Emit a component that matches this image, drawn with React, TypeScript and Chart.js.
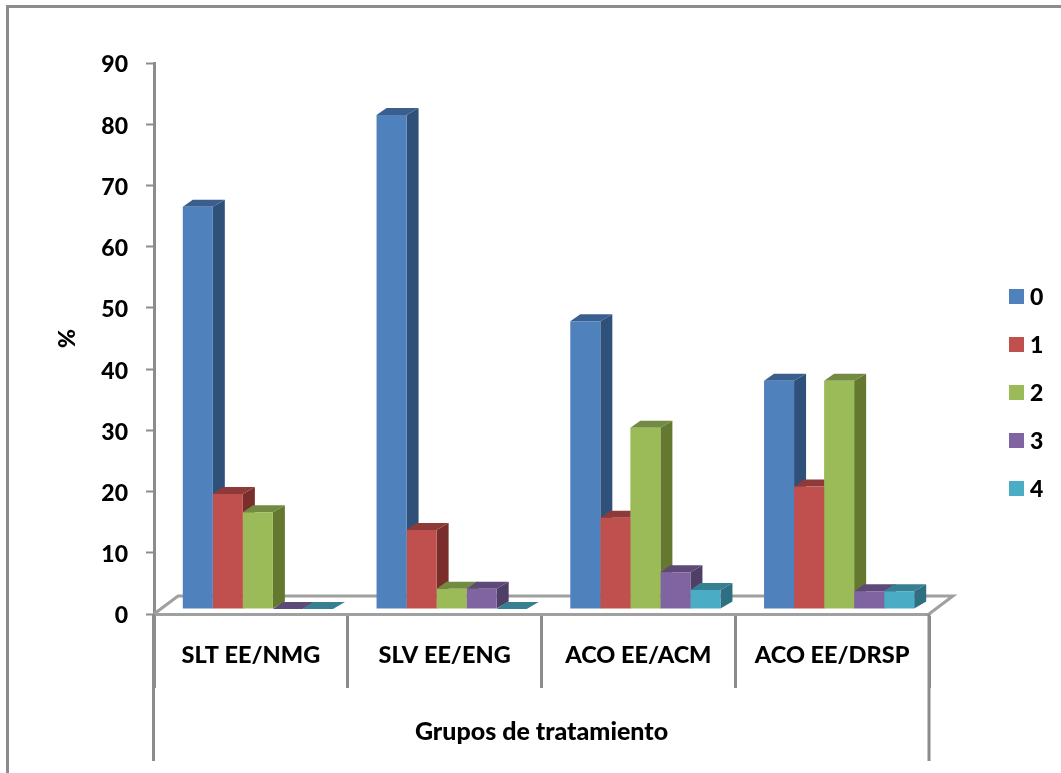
import React, { useEffect, useRef } from "react";
import { Chart, registerables } from "chart.js";

Chart.register(...registerables);

const categories = ["SLT EE/NMG", "SLV EE/ENG", "ACO EE/ACM", "ACO EE/DRSP"];
const seriesNames = ["0", "1", "2", "3", "4"];
const series0 = [65.7, 80.7, 47, 37.3];
const series1 = [18.8, 12.9, 14.9, 20];
const series2 = [15.8, 3.3, 29.6, 37.3];
const series3 = [0, 3.3, 6, 2.9];
const series4 = [0, 0, 3.1, 2.9];
const seriesValues = [series0, series1, series2, series3, series4];

const frontColors = ["#4F81BD", "#C0504D", "#9BBB59", "#8064A2", "#4BACC6"];
const topColors = ["#3A5F8E", "#8E3A38", "#738A42", "#5E4A78", "#378092"];
const sideColors = ["#2E5079", "#7A2E2C", "#64792F", "#4F3E66", "#2E6F82"];

const AXIS_GREY = "#8C8C8C";
const FONT = "Lato";
const TEXT_WEIGHT = 900;

// Perspective offsets of the 3D column look
const DEPTH_X = 12;
const DEPTH_Y = 7;
// The columns stand slightly inside the floor
const BAR_SHIFT_X = 7;
const BAR_SHIFT_Y = -5;
// Offset from the front edge of the floor to its back edge
const FLOOR_X = 24;
const FLOOR_Y = -18;

function poly(ctx: CanvasRenderingContext2D, pts: number[][], fill: string) {
  ctx.beginPath();
  pts.forEach(([x, y], i) => (i ? ctx.lineTo(x, y) : ctx.moveTo(x, y)));
  ctx.closePath();
  ctx.fillStyle = fill;
  ctx.fill();
}

const depthPlugin = {
  id: "depth3d",
  beforeDraw(chart: any) {
    const { ctx, width, height } = chart;
    ctx.save();
    ctx.fillStyle = "#FFFFFF";
    ctx.fillRect(0, 0, width, height);
    // outer frame: top and left edges
    ctx.strokeStyle = AXIS_GREY;
    ctx.lineWidth = 3;
    ctx.beginPath();
    ctx.moveTo(7.5, height);
    ctx.lineTo(7.5, 6.5);
    ctx.lineTo(width, 6.5);
    ctx.stroke();
    ctx.restore();
  },
  beforeDatasetsDraw(chart: any) {
    const { ctx } = chart;
    const { left, right, bottom } = chart.chartArea;
    // floor outline behind the columns
    ctx.save();
    ctx.strokeStyle = "#A0A0A0";
    ctx.lineWidth = 3;
    ctx.beginPath();
    ctx.moveTo(left, bottom);
    ctx.lineTo(left + FLOOR_X, bottom + FLOOR_Y);
    ctx.lineTo(right + FLOOR_X, bottom + FLOOR_Y);
    ctx.lineTo(right, bottom);
    ctx.stroke();
    ctx.restore();
    // outer level of the category axis
    const xs = chart.scales.x;
    ctx.save();
    ctx.strokeStyle = AXIS_GREY;
    ctx.lineWidth = 3;
    ctx.beginPath();
    ctx.moveTo(left - 0.5, bottom);
    ctx.lineTo(left - 0.5, xs.bottom - 12);
    ctx.moveTo(right, bottom);
    ctx.lineTo(right, xs.bottom - 12);
    ctx.stroke();
    ctx.restore();
    ctx.save();
    ctx.translate(BAR_SHIFT_X, BAR_SHIFT_Y);
    // side and top faces go left to right, all underneath the column fronts
    chart.getSortedVisibleDatasetMetas().forEach((meta: any) => {
      const i = meta.index;
      meta.data.forEach((bar: any) => {
        const { x, y, base, width } = bar;
        const l = x - width / 2;
        const r = x + width / 2;
        poly(ctx, [[r, y], [r + DEPTH_X, y - DEPTH_Y], [r + DEPTH_X, base - DEPTH_Y], [r, base]], sideColors[i]);
        poly(ctx, [[l, y], [l + DEPTH_X - 2, y - DEPTH_Y], [r + DEPTH_X, y - DEPTH_Y], [r, y]], topColors[i]);
      });
    });
  },
  afterDatasetsDraw(chart: any) {
    chart.ctx.restore();
    // legend column
    const { ctx } = chart;
    ctx.save();
    ctx.textBaseline = "middle";
    ctx.textAlign = "left";
    ctx.font = `${TEXT_WEIGHT} 23px ${FONT}`;
    chart.data.datasets.forEach((ds: any, i: number) => {
      const cy = 296.5 + i * 48;
      ctx.fillStyle = ds.backgroundColor;
      ctx.fillRect(1009, cy - 7.5, 15, 15);
      ctx.fillStyle = "#000000";
      ctx.fillText(ds.label, 1030, cy + 1.5);
    });
    ctx.restore();
  },
};

export default function App() {
  const ref = useRef<HTMLCanvasElement>(null);
  useEffect(() => {
    const chart = new Chart(ref.current!, {
      type: "bar",
      data: {
        labels: categories,
        datasets: seriesNames.map((label, i) => ({
          label,
          data: seriesValues[i],
          backgroundColor: frontColors[i],
          borderWidth: 0,
        })),
      },
      plugins: [depthPlugin],
      options: {
        responsive: false,
        animation: false,
        events: [],
        layout: { padding: { top: 63, right: 132, left: 0, bottom: 0 } },
        datasets: { bar: { barPercentage: 1, categoryPercentage: 0.775 } },
        plugins: { legend: { display: false }, tooltip: { enabled: false } },
        scales: {
          x: {
            afterFit: (s: any) => {
              s.height = 159;
            },
            grid: {
              drawOnChartArea: false,
              color: AXIS_GREY,
              tickLength: 74,
              tickWidth: 3,
              offset: true,
            },
            border: { color: "#A0A0A0", width: 3 },
            ticks: {
              autoSkip: false,
              maxRotation: 0,
              padding: -47,
              color: "#000000",
              font: { family: FONT, weight: TEXT_WEIGHT, size: 23.5 },
            },
            title: {
              display: true,
              text: "Grupos de tratamiento",
              color: "#000000",
              padding: { top: 0, bottom: 26 },
              font: { family: FONT, weight: TEXT_WEIGHT, size: 25 },
            },
          },
          y: {
            min: 0,
            max: 90,
            afterFit: (s: any) => {
              s.width = 154;
            },
            grid: {
              drawOnChartArea: false,
              color: AXIS_GREY,
              tickLength: 8,
              tickWidth: 2,
            },
            border: { color: AXIS_GREY, width: 3 },
            ticks: {
              stepSize: 10,
              padding: 18,
              labelOffset: 2,
              color: "#000000",
              font: { family: FONT, weight: TEXT_WEIGHT, size: 23 },
            },
            title: {
              display: true,
              text: "%",
              color: "#000000",
              padding: { top: 54, bottom: 0 },
              font: { family: FONT, weight: TEXT_WEIGHT, size: 23 },
            },
          },
        },
      },
    } as any);
    return () => chart.destroy();
  }, []);
  return (
    <canvas
      ref={ref}
      width={1061}
      height={773}
      style={{ position: "fixed", left: 0, top: 0, width: 1061, height: 773 }}
    />
  );
}
